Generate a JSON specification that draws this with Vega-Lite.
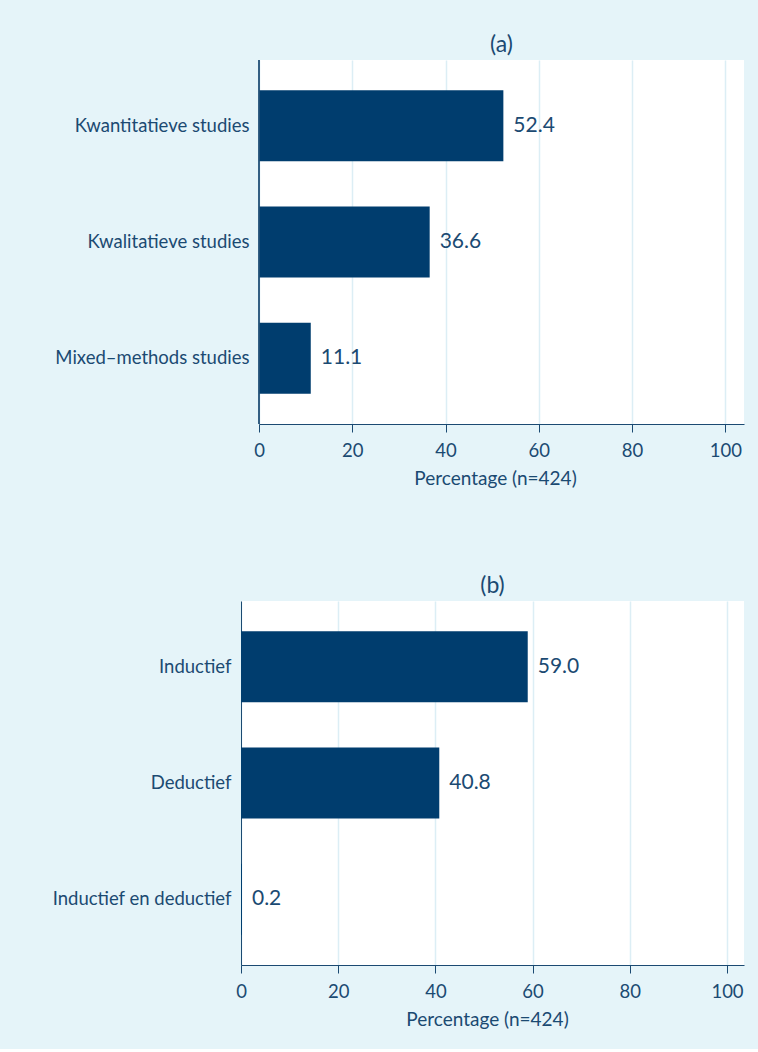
{
  "$schema": "https://vega.github.io/schema/vega-lite/v6.json",
  "background": "#e5f4f9",
  "padding": {"left": 6, "top": 33, "right": 14, "bottom": 19},
  "spacing": 86,
  "config": {
    "font": "Lato",
    "view": {"stroke": null, "fill": "white"},
    "axis": {
      "labelColor": "#1b4a72",
      "titleColor": "#1b4a72",
      "domainColor": "#1b4a72",
      "tickColor": "#1b4a72",
      "labelFontSize": 18.5,
      "titleFontSize": 19,
      "titleFontWeight": "normal",
      "labelLimit": 400,
      "gridColor": "#dceef5",
      "gridWidth": 1.5
    },
    "title": {"fontSize": 23, "fontWeight": "normal", "color": "#1b4a72", "anchor": "middle"}
  },
  "vconcat": [
    {
      "title": {"text": "(a)", "offset": -6, "dx": 9},
      "width": 503,
      "height": 364,
      "data": {"values": [
        {"category": "Kwantitatieve studies", "pct": 52.4},
        {"category": "Kwalitatieve studies", "pct": 36.6},
        {"category": "Mixed\u2013methods studies", "pct": 11.1}
      ]},
      "encoding": {
        "y": {"field": "category", "type": "nominal", "sort": null,
          "scale": {"paddingInner": 0.39, "paddingOuter": 0.26},
          "axis": {"title": null, "ticks": false, "domain": false, "labelPadding": -8, "zindex": 1, "grid": false, "minExtent": 235, "maxExtent": 235}},
        "x": {"field": "pct", "type": "quantitative",
          "scale": {"domain": [-3.86, 104], "nice": false, "zero": false},
          "axis": {"values": [0, 20, 40, 60, 80, 100], "title": "Percentage (n=424)", "titleX": 254, "grid": true, "labelFlush": false, "tickSize": 8, "labelPadding": 9, "titlePadding": 10, "domainDash": [0, 18, 1000, 0]}}
      },
      "layer": [
        {"mark": {"type": "bar", "color": "#003d6e"}},
        {"mark": {"type": "text", "align": "left", "dx": 10, "fontSize": 21, "color": "#1b4a72"},
          "encoding": {"text": {"field": "pct", "type": "quantitative", "format": ".1f"}}},
        {"mark": {"type": "rule", "color": "#e5f4f9", "strokeWidth": 18.2},
          "encoding": {"x": {"datum": -1.93}, "y": null}},
        {"mark": {"type": "rule", "color": "#1b4a72", "strokeWidth": 1},
          "encoding": {"x": {"datum": 0}, "y": null}}
      ]
    },
    {
      "title": {"text": "(b)", "offset": 3},
      "width": 503,
      "height": 364,
      "data": {"values": [
        {"category": "Inductief", "pct": 59.0},
        {"category": "Deductief", "pct": 40.8},
        {"category": "Inductief en deductief", "pct": 0.2}
      ]},
      "encoding": {
        "y": {"field": "category", "type": "nominal", "sort": null,
          "scale": {"paddingInner": 0.39, "paddingOuter": 0.26},
          "axis": {"title": null, "ticks": false, "labelPadding": 10, "grid": false, "minExtent": 235, "maxExtent": 235}},
        "x": {"field": "pct", "type": "quantitative",
          "scale": {"domain": [0, 103.5], "nice": false},
          "axis": {"values": [0, 20, 40, 60, 80, 100], "title": "Percentage (n=424)", "titleX": 246, "grid": true, "labelFlush": false, "tickSize": 8, "labelPadding": 9, "titlePadding": 10}}
      },
      "layer": [
        {"mark": {"type": "bar", "color": "#003d6e"}},
        {"mark": {"type": "text", "align": "left", "dx": 10, "fontSize": 21, "color": "#1b4a72"},
          "encoding": {"text": {"field": "pct", "type": "quantitative", "format": ".1f"}}}
      ]
    }
  ]
}
